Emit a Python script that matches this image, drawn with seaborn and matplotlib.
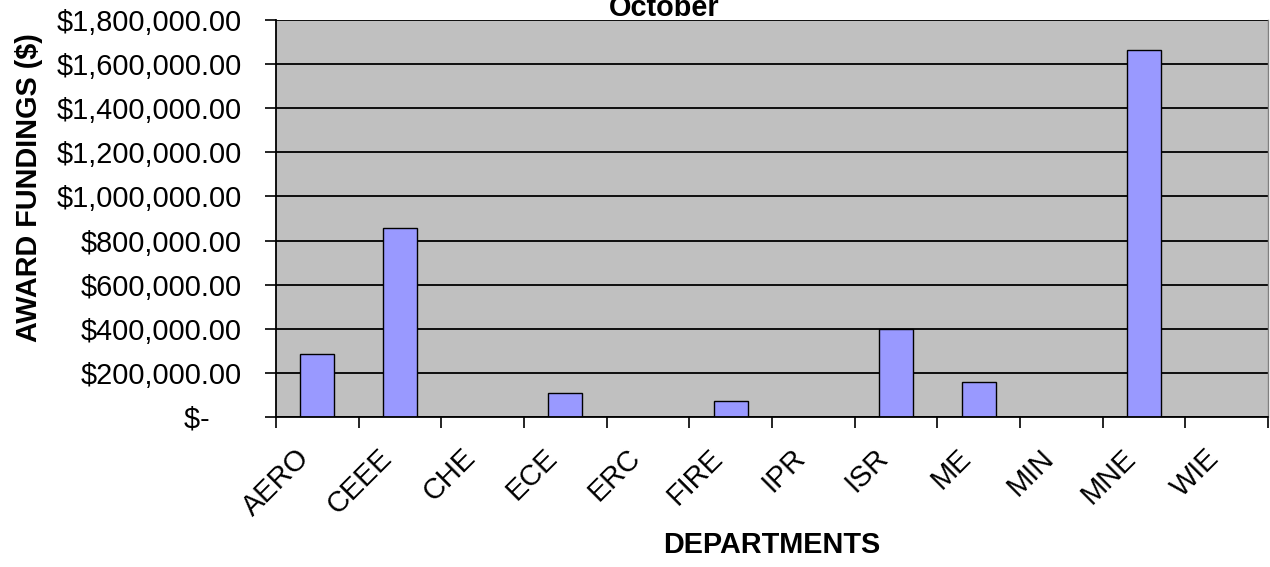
import matplotlib
matplotlib.use("Agg")
import matplotlib.pyplot as plt
import matplotlib.transforms as mtransforms
import seaborn as sns
import pandas as pd
import numpy as np

# ---- data ----
departments = ["AERO", "CEEE", "CHE", "ECE", "ERC", "FIRE", "IPR", "ISR", "ME", "MIN", "MNE", "WIE"]
awards = [287000, 856000, 0, 107500, 0, 71000, 0, 400000, 157000, 0, 1664000, 0]
y_ticks = [0, 200000, 400000, 600000, 800000, 1000000, 1200000, 1400000, 1600000, 1800000]
y_tick_labels = ["$-    ", "$200,000.00", "$400,000.00", "$600,000.00", "$800,000.00",
                 "$1,000,000.00", "$1,200,000.00", "$1,400,000.00", "$1,600,000.00", "$1,800,000.00"]
title = "October"
x_label = "DEPARTMENTS"
y_label = "AWARD FUNDINGS ($)"

sns.set_theme(style="white")
plt.rcParams["font.family"] = ["Liberation Sans", "DejaVu Sans"]
plt.rcParams["text.color"] = "black"
plt.rcParams["xtick.color"] = "black"
plt.rcParams["ytick.color"] = "black"

FS = 20.8
W, H = 1270, 567
fig = plt.figure(figsize=(W / 100, H / 100), dpi=100)
ax = fig.add_axes([276 / W, 1 - 417 / H, 992 / W, 397 / H])

df = pd.DataFrame({"dept": departments, "award": awards})
sns.barplot(data=df, x="dept", y="award", color="#9999FF", saturation=1,
            edgecolor="black", linewidth=1, width=0.41, ax=ax)

ax.set_facecolor("#C0C0C0")
ax.set_xlim(-0.5, len(departments) - 0.5)
ax.set_ylim(0, 1800000)
ax.set_yticks(y_ticks)
ax.set_yticklabels(y_tick_labels, fontsize=FS, color="black")
ax.yaxis.grid(True, color="black", linewidth=1.3)
ax.xaxis.grid(False)
ax.set_axisbelow(True)

ax.set_xticks(np.arange(len(departments)))
ax.set_xticks(np.arange(-0.5, len(departments), 1), minor=True)
ax.tick_params(axis="x", which="major", length=0, pad=12)
ax.tick_params(axis="x", which="minor", length=8, width=1.2, color="black", direction="out", bottom=True)
ax.tick_params(axis="y", length=8, width=1.2, color="black", direction="out", left=True, pad=16.5)
ax.set_xticklabels(departments, rotation=45, ha="right", rotation_mode="anchor",
                   fontsize=FS, color="black")

ax.set_xlabel("")
ax.set_ylabel("")
for s in ["left", "bottom"]:
    ax.spines[s].set_color("black")
    ax.spines[s].set_linewidth(1.3)
ax.spines["top"].set_visible(False)
ax.spines["right"].set_color("#808080")
ax.spines["right"].set_linewidth(1)

fig.text(664 / W, 1 - 16 / H, title, ha="center", va="baseline", fontsize=FS, fontweight="bold")
fig.text(772 / W, 1 - 545 / H, x_label, ha="center", va="center", fontsize=FS, fontweight="bold")
fig.text(29 / W, 1 - 188 / H, y_label, ha="center", va="center", rotation=90, fontsize=FS, fontweight="bold")

# shift the rotated category labels (after all tick_params calls)
offset = mtransforms.ScaledTranslation(-22 / 100, -10 / 100, fig.dpi_scale_trans)
for lbl in ax.get_xticklabels():
    lbl.set_transform(lbl.get_transform() + offset)

fig.savefig("out.png", dpi=100, facecolor="white")
